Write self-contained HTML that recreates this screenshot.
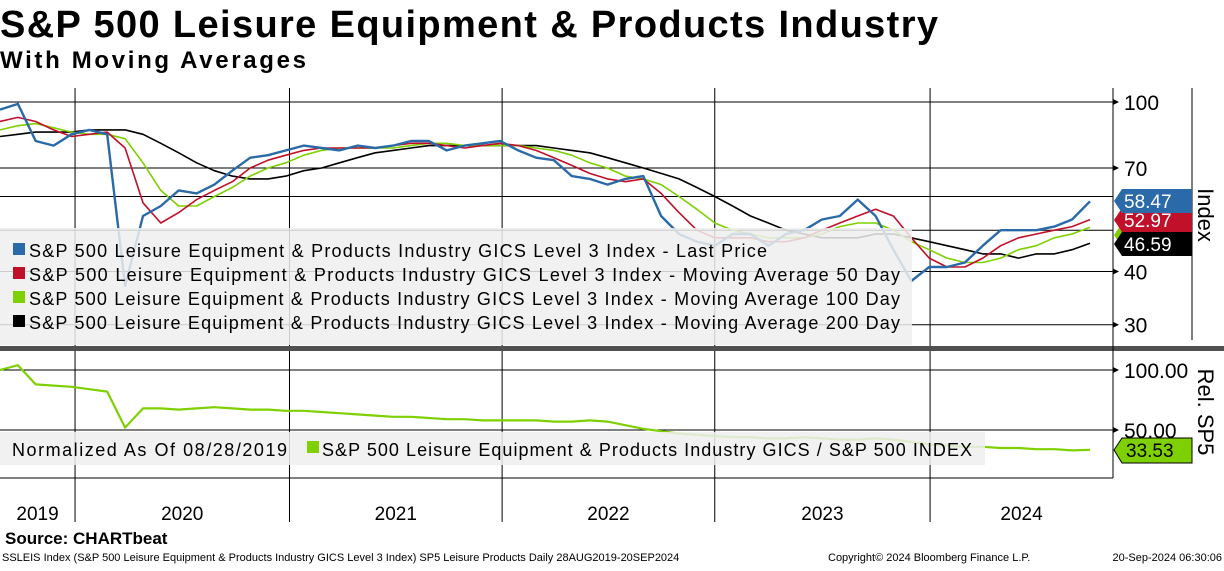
<!DOCTYPE html>
<html><head><meta charset="utf-8"><style>
body{margin:0;background:#fff;width:1224px;height:566px;overflow:hidden;font-family:"Liberation Sans",sans-serif}
</style></head><body>
<svg id="c" width="1224" height="566" xmlns="http://www.w3.org/2000/svg" font-family="Liberation Sans, sans-serif">
<text x="0" y="37" font-size="38" font-weight="bold" textLength="938">S&amp;P 500 Leisure Equipment &amp; Products Industry</text>
<text x="0" y="68" font-size="24" font-weight="bold" textLength="306">With Moving Averages</text>
<g id="grid"></g>
<g id="series"></g>
<rect x="0" y="228" width="912" height="117" fill="#eeeeee" fill-opacity="0.85"/>
<g id="leg" font-size="18"></g>
<rect x="0" y="432" width="985" height="33" fill="#eeeeee" fill-opacity="0.85"/>
<text x="12" y="456" font-size="18" textLength="275">Normalized As Of 08/28/2019</text>
<rect x="307" y="441" width="12" height="12" fill="#7ed000"/>
<text x="322" y="456" font-size="18" textLength="650">S&amp;P 500 Leisure Equipment &amp; Products Industry GICS / S&amp;P 500 INDEX</text>
<rect x="0" y="346" width="1224" height="5" fill="#505050"/>
<line x1="1113" y1="88" x2="1113" y2="478" stroke="#000"/>
<line x1="1192" y1="88" x2="1192" y2="340" stroke="#000"/>
<text transform="translate(1198,215) rotate(90)" font-size="22" text-anchor="middle">Index</text>
<text transform="translate(1198,412) rotate(90)" font-size="22" text-anchor="middle">Rel. SP5</text>
<g id="axis"></g>
<g id="tags" font-size="19"></g>
<text x="5" y="544" font-size="17" font-weight="bold">Source: CHARTbeat</text>
<text x="2" y="561" font-size="11">SSLEIS Index (S&amp;P 500 Leisure Equipment &amp; Products Industry GICS Level 3 Index) SP5 Leisure Products  Daily 28AUG2019-20SEP2024</text>
<text x="828" y="561" font-size="11">Copyright© 2024 Bloomberg Finance L.P.</text>
<text x="1222" y="561" font-size="11" text-anchor="end">20-Sep-2024 06:30:06</text>
</svg>
<script>
const NS="http://www.w3.org/2000/svg";
const price=[96,99,81,79,84,86,84,37,54,57,62,61,64,69,74,75,77,79,78,77,79,78,79,81,81,77,79,80,81,77,74,73,67,66,64,66,67,54,49,47,46,49,49,46,49,50,53,54,59,54,45,38,41,41,42,46,50,50,50,51,53,58.47];
const ma50=[90,92,90,86,83,84,85,78,58,52,55,59,62,65,70,73,75,77,78,78,78,78,79,80,80,79,78,79,80,79,77,74,71,68,66,65,66,61,55,50,48,48,48,47,47,48,50,52,54,56,54,48,43,41,41,43,46,48,49,50,51,52.97];
const ma100=[86,88,89,87,85,84,84,82,72,62,57,57,60,63,67,70,72,75,77,78,78,78,78,79,80,80,79,79,79,79,78,77,75,72,70,67,66,64,60,56,52,50,49,48,48,48,49,51,52,52,50,47,45,43,42,42,43,45,46,48,49,50.8];
const ma200=[83,84,85,85,85,86,86,86,84,80,76,72,69,67,66,66,67,69,70,72,74,76,77,78,79,79,79,79,79,79,79,78,77,76,74,72,70,68,66,63,60,57,54,52,50,49,48,48,48,49,49,48,47,46,45,44,44,43,44,44,45,46.59];
const rel=[100,104,88,87,86,84,82,52,68,68,67,68,69,68,67,67,66,66,65,64,63,62,61,61,60,59,59,58,58,58,58,57,57,58,57,54,51,49,47,46,45,44,44,43,43,44,43,42,42,43,42,40,38,37,36,36,35,35,34,34,33,33.53];
const years=["2019","2020","2021","2022","2023","2024"];
const yearStarts=[null,4.2,16.2,28.1,40.0,52.05];
const indexTicks=[100,70,40,30], indexGrid=[100,70,60,50,40,30];
const relTicks=[100,50];
const x0=0,x1=1090,n=price.length;
const X=i=>x0+i*(x1-x0)/(n-1);
const Y=v=>102+(2-Math.log10(v))*426;
const R=v=>370+(100-v)*1.2;
const g=id=>document.getElementById(id);
function el(t,a,p){const e=document.createElementNS(NS,t);for(const k in a)e.setAttribute(k,a[k]);p.appendChild(e);return e;}
const grid=g('grid');
indexGrid.forEach(v=>{const l=el('line',{x1:0,x2:1113,y1:Y(v),y2:Y(v),stroke:'#000','stroke-width':1},grid);

});
relTicks.forEach(v=>{const l=el('line',{x1:0,x2:1113,y1:R(v),y2:R(v),stroke:'#000','stroke-width':1},grid);

});
yearStarts.forEach((m,i)=>{if(m===null)return;const l=el('line',{x1:X(m),x2:X(m),y1:88,y2:522,stroke:'#000','stroke-width':1},grid);

});
const ser=g('series');
function line(arr,f,col,w,name){const d=arr.map((v,i)=>(i?'L':'M')+X(i).toFixed(1)+','+f(v).toFixed(1)).join('');
const p=el('path',{d:d,fill:'none',stroke:col,'stroke-width':w,'stroke-linejoin':'round'},ser);

}
line(ma200,Y,'#000',1.6,'ma200-line');
line(ma100,Y,'#7ed000',1.6,'ma100-line');
line(ma50,Y,'#c0102a',1.6,'ma50-line');
line(price,Y,'#2a6aa8',2.4,'price-line');
line(rel,R,'#7ed000',2.2,'rel-line');
const leg=g('leg');
const labels=["Last Price","Moving Average 50 Day","Moving Average 100 Day","Moving Average 200 Day"];
const cols=['#2a6aa8','#c0102a','#7ed000','#000'];
const lens=[738,871,871,871];
labels.forEach((s,i)=>{const y=257+i*24;
const r=el('rect',{x:13,y:y-14,width:12,height:12,fill:cols[i]},leg);


const t=el('text',{x:29,y:y,textLength:lens[i]},leg);t.textContent="S&P 500 Leisure Equipment & Products Industry GICS Level 3 Index - "+s;

});
const ax=g('axis');
indexTicks.forEach(v=>{const t=el('text',{x:1124,y:Y(v)+8,'font-size':21},ax);t.textContent=v;


const p=el('path',{d:`M1113,${Y(v)-3}L1119,${Y(v)}L1113,${Y(v)+3}Z`},ax);

});
relTicks.forEach(v=>{const t=el('text',{x:1124,y:R(v)+8,'font-size':21},ax);t.textContent=v.toFixed(2);


const p=el('path',{d:`M1113,${R(v)-3}L1119,${R(v)}L1113,${R(v)+3}Z`},ax);

});
const xa=el('line',{x1:0,x2:1113,y1:478,y2:478,stroke:'#000'},ax);


years.forEach((y,i)=>{const a=i?X(yearStarts[i]):0;const b=i<5?X(yearStarts[i+1]):1113;
const t=el('text',{x:(a+b)/2,y:520,'font-size':19,'text-anchor':'middle'},ax);t.textContent=y;

});
const tags=g('tags');
function tag(v,y,col,tc,name){const p=el('path',{d:`M1114,${y}L1122,${y-12}L1192,${y-12}L1192,${y+12}L1122,${y+12}Z`,fill:col},tags);


const t=el('text',{x:1124,y:y+7,fill:tc},tags);t.textContent=v.toFixed(2);

}
tag(ma100[n-1],235,'#7ed000','#000','ma100-value-tag');
tag(ma200[n-1],244,'#000','#fff','ma200-value-tag');
tag(ma50[n-1],220,'#c0102a','#fff','ma50-value-tag');
tag(price[n-1],201,'#2a6aa8','#fff','price-value-tag');
const rt=el('path',{d:'M1114,450L1122,438L1192,438L1192,463L1122,463Z',fill:'#7ed000',stroke:'#000'},tags);


const rtt=el('text',{x:1126,y:457,fill:'#000'},tags);rtt.textContent=rel[n-1].toFixed(2);


</script>
</body></html>
